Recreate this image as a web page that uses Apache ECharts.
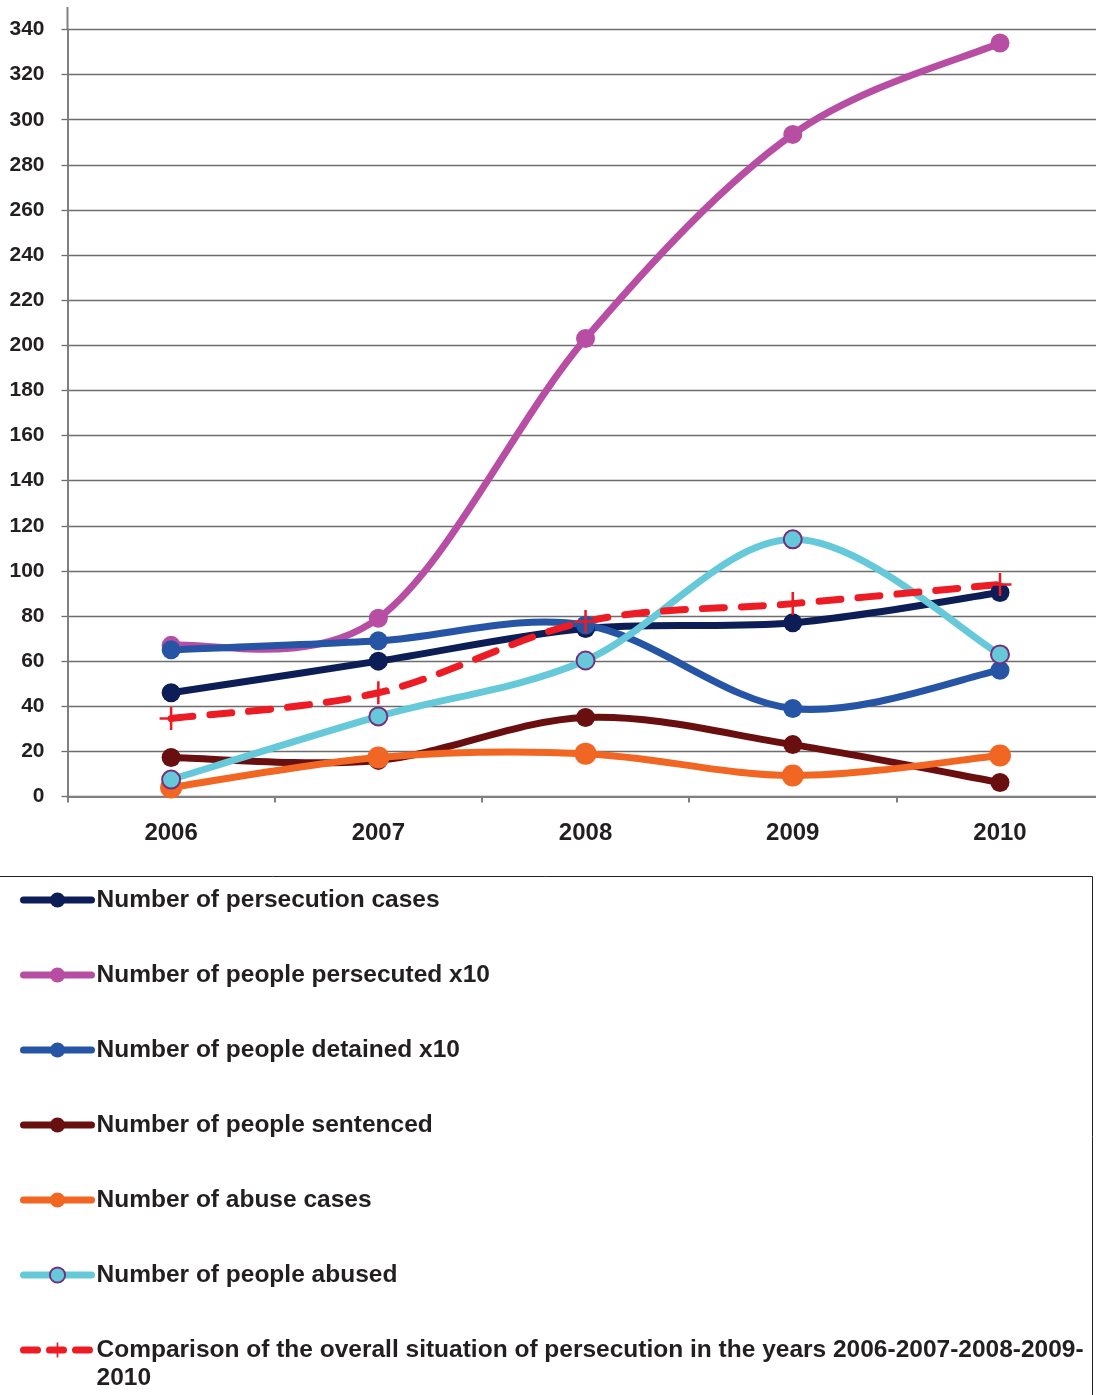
<!DOCTYPE html>
<html>
<head>
<meta charset="utf-8">
<script src="https://cdn.jsdelivr.net/npm/echarts@6/dist/echarts.min.js"></script>
<style>
  html, body { margin: 0; padding: 0; background: #fff; }
  #chart { width: 1096px; height: 1395px; }
</style>
</head>
<body>
<div id="chart"></div>
<script>
// Categories and series values
const years = ['2006', '2007', '2008', '2009', '2010'];
const persecutionCases    = [46, 60, 74.5, 77, 90.4];
const peoplePersecutedX10 = [67, 79, 203, 293.5, 334];
const peopleDetainedX10   = [65, 69, 76, 39, 56];
const peopleSentenced     = [17.3, 16, 35, 23, 6.2];
const abuseCases          = [4, 17.3, 19, 9.3, 18.2];
const peopleAbused        = [7.5, 35.5, 60.3, 114, 63];
const overallComparison   = [34.6, 46, 77.6, 85.5, 94];

const seriesNames = [
  'Number of persecution cases',
  'Number of people persecuted x10',
  'Number of people detained x10',
  'Number of people sentenced',
  'Number of abuse cases',
  'Number of people abused',
  'Comparison of the overall situation of persecution in the years 2006-2007-2008-2009-2010'
];

const FONT = '"Liberation Sans", Arial, Helvetica, sans-serif';
const TEXT = '#231f20';
const PLUS = 'path://M10,0H12.5V10H22.5V12.5H12.5V22.5H10V12.5H0V10H10Z';
const LINE_W = 7;
const DASH = [22, 17];

// Each series: values, colour, marker size, marker symbol, marker style, dash
const defs = [
  { values: persecutionCases,    color: '#0d1d56', size: 19 },
  { values: peoplePersecutedX10, color: '#b84ea4', size: 19 },
  { values: peopleDetainedX10,   color: '#2655a5', size: 19 },
  { values: peopleSentenced,     color: '#6a0f10', size: 19 },
  { values: abuseCases,          color: '#f16623', size: 22 },
  { values: peopleAbused,        color: '#66c9da', size: 18,
    item: { color: '#66c9da', borderColor: '#74307f', borderWidth: 2 } },
  { values: overallComparison,   color: '#ed1c24', size: 23, symbol: PLUS, dash: DASH }
];

// Smoothed curve through the points (Bezier with 1/6 neighbour tangents)
function curveRenderer(values, color, dash) {
  return function (params, api) {
    if (params.dataIndex !== 0) return null;
    const p = values.map(function (v, k) { return api.coord([k, v]); });
    const n = p.length;
    let d = 'M' + p[0][0] + ' ' + p[0][1];
    for (let i = 0; i < n - 1; i++) {
      const a = p[Math.max(i - 1, 0)], b = p[i], c = p[i + 1], e = p[Math.min(i + 2, n - 1)];
      const c1x = b[0] + (c[0] - a[0]) / 6, c1y = b[1] + (c[1] - a[1]) / 6;
      const c2x = c[0] - (e[0] - b[0]) / 6, c2y = c[1] - (e[1] - b[1]) / 6;
      d += ' C' + c1x + ' ' + c1y + ' ' + c2x + ' ' + c2y + ' ' + c[0] + ' ' + c[1];
    }
    return {
      type: 'path',
      shape: { pathData: d },
      style: {
        fill: null, stroke: color, lineWidth: LINE_W,
        lineCap: 'round', lineJoin: 'round', lineDash: dash || null
      },
      silent: true
    };
  };
}

const series = [];
defs.forEach(function (def, k) {
  series.push({
    type: 'custom',
    name: 'curve-' + k,
    data: def.values.map(function (v, i) { return [i, v]; }),
    encode: { x: 0, y: 1 },
    renderItem: curveRenderer(def.values, def.color, def.dash),
    silent: true
  });
  series.push({
    name: seriesNames[k],
    type: 'line',
    data: def.values,
    symbol: def.symbol || 'circle',
    symbolSize: def.size,
    showAllSymbol: true,
    lineStyle: { color: 'rgba(0,0,0,0)', width: LINE_W },
    itemStyle: def.item || { color: def.color },
    emphasis: { disabled: true },
    silent: true
  });
});

function legendItem(k) {
  return {
    name: seriesNames[k],
    lineStyle: {
      color: defs[k].color, width: LINE_W, cap: 'round',
      type: defs[k].dash ? [14, 12] : 'solid'
    }
  };
}

const legendText = {
  fontFamily: FONT, fontWeight: 'bold', fontSize: 24.5, color: TEXT, lineHeight: 28
};

const chart = echarts.init(document.getElementById('chart'));

chart.setOption({
  animation: false,
  backgroundColor: '#fff',
  grid: {
    left: 67.5, right: -7.6, top: 29.5, bottom: 598.5,
    containLabel: false, outerBoundsMode: 'none'
  },
  xAxis: {
    type: 'category',
    data: years,
    boundaryGap: true,
    axisLine: { lineStyle: { color: '#808080', width: 2 } },
    axisTick: { show: true, length: 6, lineStyle: { color: '#808080', width: 2 } },
    axisLabel: {
      margin: 25, color: TEXT, fontFamily: FONT, fontWeight: 'bold', fontSize: 24
    },
    splitLine: { show: false }
  },
  yAxis: {
    type: 'value',
    min: 0, max: 340, interval: 20,
    axisLine: { show: true, lineStyle: { color: '#808080', width: 2 } },
    axisTick: { show: true, length: 6, lineStyle: { color: '#6d6d6d', width: 1.3 } },
    axisLabel: {
      margin: 23, color: TEXT, fontFamily: FONT, fontWeight: 'bold', fontSize: 21
    },
    splitLine: { show: true, lineStyle: { color: '#6d6d6d', width: 1.3 } }
  },
  legend: [
    {
      orient: 'vertical',
      left: 20, top: 886,
      padding: 0,
      itemWidth: 68, itemHeight: 19, itemGap: 47,
      data: [0, 1, 2, 3, 4, 5].map(legendItem),
      textStyle: legendText,
      selectedMode: false
    },
    {
      orient: 'vertical',
      left: 20, top: 1308,
      padding: 0,
      itemWidth: 68, itemHeight: 19,
      data: [legendItem(6)],
      // leading empty line keeps the first caption line level with the icon
      formatter: function (name) { return '\n' + name.replace('2009-2010', '2009-\n2010'); },
      textStyle: legendText,
      selectedMode: false
    }
  ],
  graphic: [
    // legend frame
    {
      type: 'rect', silent: true, z: -1,
      shape: { x: -1, y: 876.5, width: 1093.5, height: 600 },
      style: { fill: 'none', stroke: '#231f20', lineWidth: 1 }
    },
    // value axis continues a little above the top gridline
    {
      type: 'line', silent: true,
      shape: { x1: 67.5, y1: 7, x2: 67.5, y2: 30 },
      style: { stroke: '#808080', lineWidth: 2 }
    }
  ],
  series: series
});
</script>
</body>
</html>
